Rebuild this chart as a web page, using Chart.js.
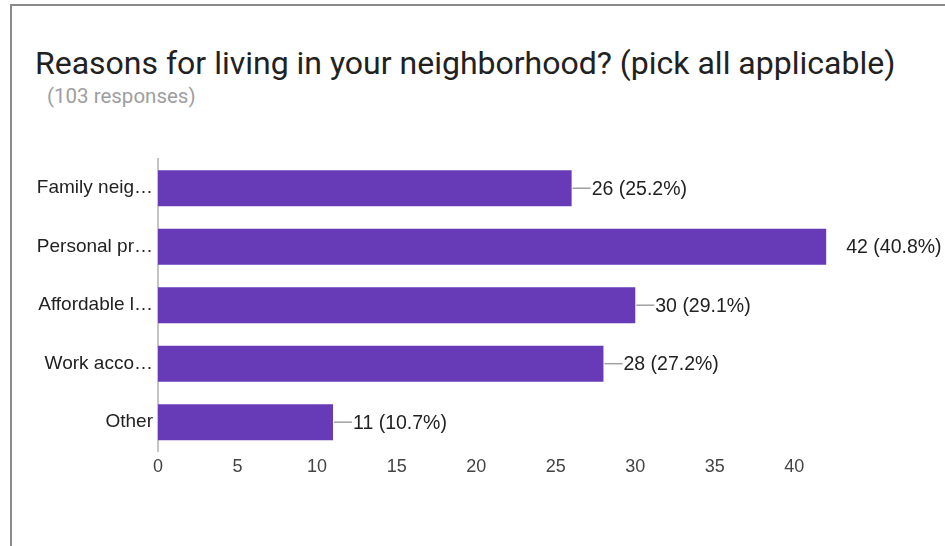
<!DOCTYPE html>
<html>
<head>
<meta charset="utf-8">
<script src="https://cdn.jsdelivr.net/npm/chart.js@4.4.0/dist/chart.umd.min.js"></script>
<style>
  html, body { margin: 0; padding: 0; background: #fff; }
  #wrap { position: relative; width: 945px; height: 546px; overflow: hidden; }
  #frame { position: absolute; left: 10px; top: 4px; width: 950px; height: 560px;
           border-left: 2px solid #8a8a8a; border-top: 2px solid #8a8a8a; }
  #title { position: absolute; left: 35px; top: 44px; font-family: Roboto, sans-serif;
           font-size: 32px; color: #212121; white-space: nowrap; }
  #sub { position: absolute; left: 47px; top: 84px; font-family: Roboto, sans-serif;
         font-size: 20.5px; color: #9e9e9e; white-space: nowrap; }
  canvas { position: absolute; left: 0; top: 0; }
</style>
</head>
<body>
<div id="wrap">
  <div id="frame"></div>
  <div id="title">Reasons for living in your neighborhood? (pick all applicable)</div>
  <div id="sub">(103 responses)</div>
  <canvas id="myChart" width="945" height="546"></canvas>
</div>
<script>
// survey data
const categories = ['Family neig…', 'Personal pr…', 'Affordable l…', 'Work acco…', 'Other'];
const counts = [26, 42, 30, 28, 11];
const percents = ['25.2%', '40.8%', '29.1%', '27.2%', '10.7%'];
const xTicks = [0, 5, 10, 15, 20, 25, 30, 35, 40];

const barLabels = {
  id: 'barLabels',
  afterDatasetsDraw(chart) {
    const ctx = chart.ctx;
    const meta = chart.getDatasetMeta(0);
    const maxVal = Math.max(...counts);
    ctx.save();
    ctx.font = '19.5px "Liberation Sans", Arial, sans-serif';
    ctx.textBaseline = 'middle';
    ctx.textAlign = 'left';
    meta.data.forEach((bar, i) => {
      const x = bar.x, y = bar.y;
      if (counts[i] !== maxVal) {
        ctx.strokeStyle = '#a0a0a0';
        ctx.lineWidth = 1.5;
        ctx.beginPath();
        ctx.moveTo(x + 1, y);
        ctx.lineTo(x + 19, y);
        ctx.stroke();
      }
      ctx.fillStyle = '#222';
      ctx.fillText(counts[i] + ' (' + percents[i] + ')', x + 20, y + 1);
    });
    ctx.restore();
  }
};

const canvas = document.getElementById('myChart').getContext('2d');
const myChart = new Chart(canvas, {
  type: 'bar',
  data: {
    labels: categories,
    datasets: [{
      data: counts,
      backgroundColor: '#673ab7',
      borderWidth: 0,
      barPercentage: 0.615,
      categoryPercentage: 1
    }]
  },
  options: {
    indexAxis: 'y',
    responsive: false,
    animation: false,
    layout: { padding: { top: 159, left: 0, right: 87, bottom: 63 } },
    plugins: {
      legend: { display: false },
      tooltip: { enabled: false }
    },
    scales: {
      x: {
        min: 0,
        max: 44,
        afterBuildTicks: (scale) => {
          scale.ticks = xTicks.map(v => ({ value: v }));
        },
        grid: { display: false, drawTicks: false },
        border: { display: false },
        ticks: {
          padding: 5,
          color: '#444',
          font: { family: '"Liberation Sans", Arial, sans-serif', size: 18 }
        }
      },
      y: {
        afterFit: (scale) => { scale.width = 158; },
        grid: { display: false, drawTicks: false },
        border: { display: true, color: '#c4c4c4', width: 2 },
        ticks: {
          padding: 5,
          color: '#222',
          font: { family: '"Liberation Sans", Arial, sans-serif', size: 19 }
        }
      }
    }
  },
  plugins: [barLabels]
});
</script>
</body>
</html>
